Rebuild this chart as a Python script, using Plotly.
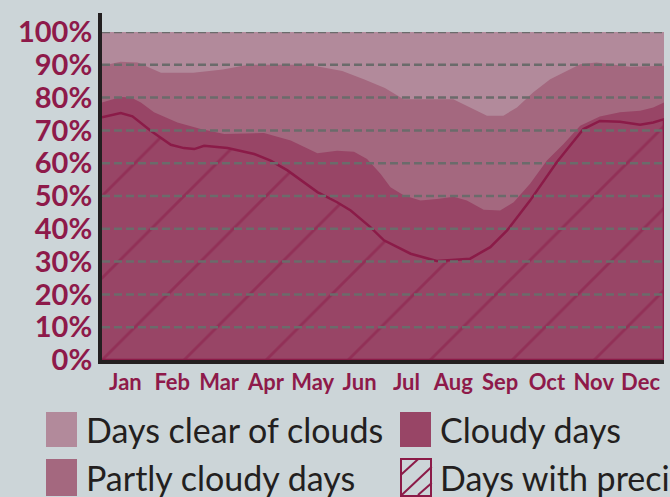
import plotly.graph_objects as go

W, H = 670, 497
L, R, T, B = 102, 6, 32, 137
PW = W - L - R
PH = H - T - B

# ---------------- data ----------------
months = ["Jan", "Feb", "Mar", "Apr", "May", "Jun",
          "Jul", "Aug", "Sep", "Oct", "Nov", "Dec"]
month_pos = [0.5, 1.5, 2.5, 3.5, 4.5, 5.5, 6.5, 7.5, 8.5, 9.5, 10.5, 11.5]
y_ticks = [0, 10, 20, 30, 40, 50, 60, 70, 80, 90, 100]
y_tick_labels = ["0%", "10%", "20%", "30%", "40%", "50%",
                 "60%", "70%", "80%", "90%", "100%"]

# upper boundary of each stacked layer (% of days), x in months
clear_x = [0, 12]
clear_top = [100, 100]

partly_x = [0, 0.40, 0.76, 1.26, 1.95, 2.58, 3.13, 4.41, 5.13, 5.59, 6.04, 6.44,
            7.50, 7.86, 8.22, 8.57, 8.86, 9.21, 9.57, 10.21, 10.56, 11.27, 12]
partly_top = [89.7, 90.9, 90.7, 87.6, 87.6, 88.6, 90.0, 90.0, 88.1, 85.6, 82.9, 79.5,
              79.5, 77.0, 74.5, 74.5, 77.0, 81.6, 85.6, 90.2, 90.7, 89.4, 89.7]

cloudy_x = [0, 0.40, 0.62, 0.83, 1.11, 1.61, 2.11, 2.61, 3.46, 4.03, 4.60, 5.02,
            5.38, 5.66, 5.95, 6.16, 6.44, 6.80, 7.15, 7.51, 7.79, 8.15, 8.50, 8.79,
            9.14, 9.50, 9.85, 10.21, 10.63, 11.06, 11.49, 11.77, 12]
cloudy_top = [78.5, 80.2, 80.0, 78.5, 75.5, 72.4, 70.4, 68.9, 69.2, 66.9, 63.0, 63.8,
              63.5, 61.3, 56.7, 52.7, 50.2, 48.6, 49.1, 49.8, 48.6, 45.8, 45.6, 48.1,
              53.7, 60.8, 65.8, 71.4, 74.2, 75.5, 76.0, 77.0, 78.5]

precip_x = [0, 0.40, 0.65, 1.04, 1.47, 1.75, 1.97, 2.18, 2.68, 3.25, 3.60, 3.96,
            4.60, 5.02, 5.31, 5.73, 6.02, 6.59, 7.15, 7.86, 8.29, 8.65, 9.14, 9.71,
            10.28, 10.63, 11.06, 11.49, 11.77, 12]
precip_top = [74.0, 75.3, 74.3, 69.9, 65.6, 64.6, 64.3, 65.3, 64.6, 62.8, 60.8, 57.8,
              51.2, 48.1, 45.6, 40.5, 36.5, 32.4, 30.2, 30.9, 34.4, 39.5, 48.6, 60.3,
              70.4, 72.9, 72.6, 71.7, 72.4, 73.4]

legend_labels = ["Days clear of clouds", "Partly cloudy days",
                 "Cloudy days", "Days with precipitation"]

# ---------------- style ----------------
BG = "#ccd5d8"
C_CLEAR = "#b28a9b"
C_PARTLY = "#a4687f"
C_CLOUDY = "#984566"
C_PREC = "#8b1b48"
C_GRID = "#6b6b6b"
C_AXIS = "#231f20"
C_LABEL = "#8e1a4a"


def px2x(px):
    return (px - L) / PW


def py2y(py):
    return (H - B - py) / PH


fig = go.Figure()
fig.add_trace(go.Scatter(x=clear_x, y=clear_top, mode="lines", line=dict(width=0),
                         fill="tozeroy", fillcolor=C_CLEAR, name=legend_labels[0],
                         showlegend=False))
fig.add_trace(go.Scatter(x=partly_x, y=partly_top, mode="lines", line=dict(width=0),
                         fill="tozeroy", fillcolor=C_PARTLY, name=legend_labels[1],
                         showlegend=False))
fig.add_trace(go.Scatter(x=cloudy_x, y=cloudy_top, mode="lines", line=dict(width=0),
                         fill="tozeroy", fillcolor=C_CLOUDY, name=legend_labels[2],
                         showlegend=False))
# precipitation: closed outline down to the baseline, hatched
fig.add_trace(go.Scatter(x=precip_x + [precip_x[-1], precip_x[0]],
                         y=precip_top + [0, 0],
                         mode="lines", line=dict(width=2.5, color=C_PREC),
                         fill="toself", fillcolor="rgba(0,0,0,0)",
                         fillpattern=dict(shape="/", size=58, solidity=0.05,
                                          fgcolor=C_PREC, bgcolor="rgba(0,0,0,0)"),
                         name=legend_labels[3], showlegend=False))

shapes = []
# dashed grid lines drawn over the areas
for v in y_ticks[1:]:
    shapes.append(dict(type="line", xref="paper", yref="y", x0=0, x1=1, y0=v, y1=v,
                       line=dict(color=C_GRID, width=2.5, dash="8px,4px"), layer="above"))
# y axis line extension above the plot
shapes.append(dict(type="line", xref="paper", yref="paper", x0=px2x(100), x1=px2x(100),
                   y0=1, y1=py2y(13), line=dict(color=C_AXIS, width=4)))

# legend (manual)
sw_w = 31
rows_y = [(412, 447), (459, 496)]
cols_x = [46, 400]
entries = [(0, 0, C_CLEAR), (0, 1, C_PARTLY), (1, 0, C_CLOUDY)]
annotations = []
for col, row, col_color in entries:
    x0 = cols_x[col]
    y0, y1 = rows_y[row]
    shapes.append(dict(type="rect", xref="paper", yref="paper",
                       x0=px2x(x0), x1=px2x(x0 + sw_w), y0=py2y(y1), y1=py2y(y0),
                       fillcolor=col_color, line=dict(width=0)))
# hatched swatch
hx0 = cols_x[1]
hy0, hy1 = rows_y[1]
shapes.append(dict(type="rect", xref="paper", yref="paper",
                   x0=px2x(hx0 + 1), x1=px2x(hx0 + sw_w), y0=py2y(hy1), y1=py2y(hy0),
                   fillcolor="rgba(0,0,0,0)", line=dict(width=2, color=C_PREC)))
for (ax0, ay0, ax1, ay1) in [(0.7, 475, 18, 459.3), (1.7, 495, 31.7, 466.7), (18, 495, 31.7, 483)]:
    shapes.append(dict(type="line", xref="paper", yref="paper",
                       x0=px2x(hx0 + ax0), y0=py2y(ay0), x1=px2x(hx0 + ax1), y1=py2y(ay1),
                       line=dict(width=2, color=C_PREC)))

text_pos = [(84, 0), (84, 1), (438, 0), (438, 1)]
for lab, (tx, row) in zip(legend_labels, text_pos):
    ymid = (rows_y[row][0] + rows_y[row][1]) / 2
    annotations.append(dict(xref="paper", yref="paper", x=px2x(tx), y=py2y(ymid),
                            xanchor="left", yanchor="middle", text=lab, showarrow=False,
                            font=dict(family="Lato", size=34, color=C_AXIS)))

fig.update_layout(
    width=W, height=H,
    margin=dict(l=L, r=R, t=T, b=B, pad=0),
    paper_bgcolor=BG, plot_bgcolor=BG,
    showlegend=False,
    shapes=shapes,
    annotations=annotations,
    xaxis=dict(range=[0, 12], tickvals=month_pos, ticktext=months, showgrid=False,
               zeroline=False, showline=True, linecolor=C_AXIS, linewidth=4,
               ticks="", tickfont=dict(family="Lato", size=22, color=C_LABEL, weight="bold"),
               fixedrange=True),
    yaxis=dict(range=[0, 100], tickvals=y_ticks, ticktext=y_tick_labels, showgrid=False,
               zeroline=False, showline=True, linecolor=C_AXIS, linewidth=4,
               ticks="", tickfont=dict(family="Lato", size=29, color=C_LABEL, weight="bold"),
               fixedrange=True),
)

fig.write_html("out.html", config={"displayModeBar": False},
               post_script="document.body.style.margin='0';document.body.style.overflow='hidden';")
